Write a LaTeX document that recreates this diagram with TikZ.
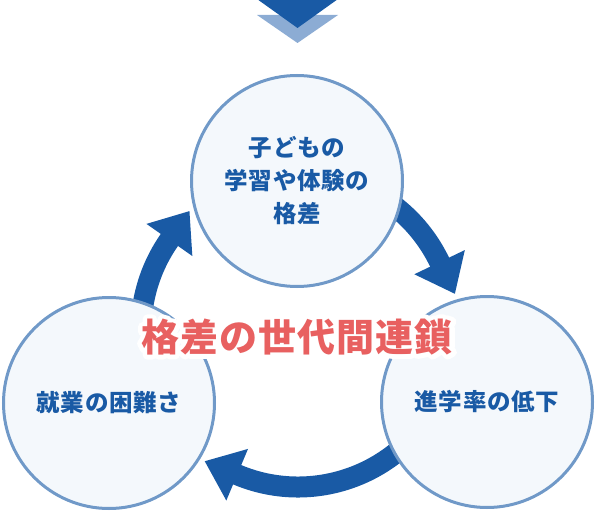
\documentclass[tikz,border=0pt]{standalone}
\usepackage{fontspec}
\newfontfamily\jpfont[LetterSpace=3]{Noto Sans CJK JP}
\usetikzlibrary{calc}
\definecolor{flowblue}{RGB}{25,90,165}
\definecolor{ringblue}{RGB}{112,153,200}
\definecolor{paleblue}{RGB}{244,248,252}
\definecolor{chevronblue}{RGB}{140,172,212}
\definecolor{chainred}{RGB}{232,96,96}

\begin{document}
\begin{tikzpicture}[x=1pt,y=-1pt,
  stage/.style={circle,draw=ringblue,line width=3pt,fill=paleblue,
    minimum size=211pt,inner sep=0pt,align=center,text=flowblue,
    font=\jpfont\bfseries\fontsize{23.5}{33}\selectfont},
  flow/.style={draw=flowblue,line width=21pt},
  head/.style={fill=flowblue},
  chain/.style={font=\jpfont\bfseries\fontsize{38}{42}\selectfont,
    text=chainred,inner sep=0pt},
  halo/.style={chain,text=white}]
  \useasboundingbox (0,0) rectangle (597,513);
  % Incoming chevrons
  \fill[chevronblue] (257,15) -- (338,15) -- (297.5,43) -- cycle;
  \fill[flowblue] (257,-1) -- (338,-1) -- (297.5,28) -- cycle;
  % Hub of the cycle
  \coordinate (hub) at (298,330);
  % Arrows
  \draw[flow] ($(hub)+(-60:157)$) arc[start angle=-60,end angle=-24,radius=157];
  \fill[head] ($(hub)+(-25.6:129)$) -- ($(hub)+(-13:161)$) -- ($(hub)+(-25.6:185)$) -- cycle;
  \draw[flow] ($(hub)+(30:157)$) arc[start angle=30,end angle=114.4,radius=157];
  \fill[head] ($(hub)+(112.8:129)$) -- ($(hub)+(125.4:161)$) -- ($(hub)+(112.8:185)$) -- cycle;
  \draw[flow] ($(hub)+(160:157)$) arc[start angle=160,end angle=216.6,radius=157];
  \fill[head] ($(hub)+(215:129)$) -- ($(hub)+(227.6:161)$) -- ($(hub)+(215:185)$) -- cycle;
  % Stages
  \node[stage] (gap) at (297,181) {子どもの\\学習や体験の\\格差};
  \node[stage] (rate) at (487,402) {進学率の低下};
  \node[stage] (work) at (109,403) {就業の困難さ};
  % Title with white outline
  \node[halo] (halo) at (297,337) {\special{pdf:literal direct 2 Tr 9 w 1 j}格差の世代間連鎖};
  \node[chain] (chain) at (297,337) {格差の世代間連鎖};
\end{tikzpicture}
\end{document}
